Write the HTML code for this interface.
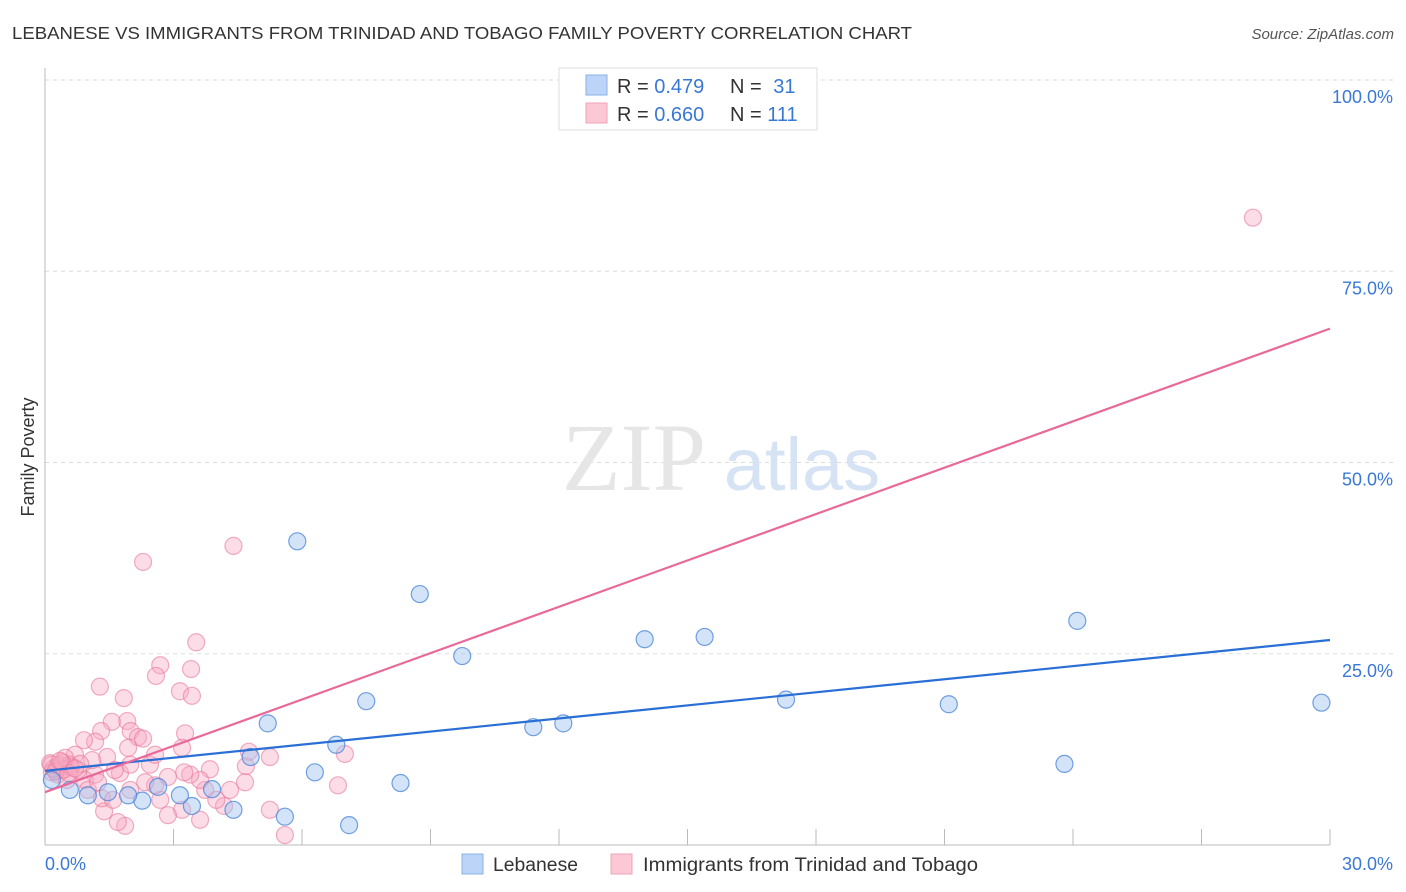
<!DOCTYPE html>
<html><head><meta charset="utf-8"><style>
body{margin:0;background:#fff;font-family:"Liberation Sans",sans-serif;}
svg{display:block}
</style></head><body>
<svg id="chart" width="1406" height="892" xmlns="http://www.w3.org/2000/svg">
<text x="12" y="39" font-size="17.5" fill="#333" textLength="900" lengthAdjust="spacingAndGlyphs">LEBANESE VS IMMIGRANTS FROM TRINIDAD AND TOBAGO FAMILY POVERTY CORRELATION CHART</text>
<text x="1394" y="39" font-size="15" fill="#555" font-style="italic" text-anchor="end">Source: ZipAtlas.com</text>
<g id="grid"></g>
<g>
<text x="634" y="490" font-size="96" font-family="Liberation Serif" fill="#e6e6e6" text-anchor="middle">ZIP</text>
<text x="802" y="490" font-size="74" fill="#d6e3f5" text-anchor="middle">atlas</text>
</g>
<text transform="translate(34,457) rotate(-90)" font-size="18" fill="#333" text-anchor="middle">Family Poverty</text>
<g id="pts"></g>
<g id="lines"></g>
<g>
<rect x="559" y="68" width="258" height="62" fill="#fff" stroke="#ddd"/>
<rect x="586" y="75" width="21" height="20" fill="#bcd4f7" stroke="#8ab0e6"/>
<rect x="586" y="103" width="21" height="20" fill="#fcc8d6" stroke="#eea4b8"/>
<text x="617" y="93" font-size="20" fill="#333">R = <tspan fill="#3a78d6">0.479</tspan></text>
<text x="730" y="93" font-size="20" fill="#333">N = <tspan fill="#3a78d6" dx="6">31</tspan></text>
<text x="617" y="121" font-size="20" fill="#333">R = <tspan fill="#3a78d6">0.660</tspan></text>
<text x="730" y="121" font-size="20" fill="#333">N = <tspan fill="#3a78d6">111</tspan></text>
</g>
<g>
<rect x="462" y="854" width="21" height="20" fill="#bcd4f7" stroke="#8ab0e6"/>
<text x="493" y="871" font-size="19" fill="#333" textLength="85" lengthAdjust="spacingAndGlyphs">Lebanese</text>
<rect x="611" y="854" width="21" height="20" fill="#fcc8d6" stroke="#eea4b8"/>
<text x="643" y="871" font-size="19" fill="#333" textLength="335" lengthAdjust="spacingAndGlyphs">Immigrants from Trinidad and Tobago</text>
</g>
</svg>
<script>
const xTickLabels=["0.0%","30.0%"];
const yTicks=[25,50,75,100];
const yTickLabels=["25.0%","50.0%","75.0%","100.0%"];
const blueX=[5.89,8.75,9.74,14.0,15.4,24.1,29.8,21.1,17.3,23.8,12.1,11.4,7.5,5.2,6.8,4.8,6.3,8.3,7.1,5.6,4.4,3.9,3.43,3.15,2.64,2.27,1.94,1.47,1.0,0.58,0.16];
const blueY=[39.7,32.8,24.7,26.9,27.2,29.3,18.6,18.4,19.0,10.6,15.9,15.4,18.8,15.9,13.1,11.5,9.5,8.1,2.6,3.7,4.6,7.3,5.1,6.5,7.6,5.8,6.5,6.9,6.5,7.2,8.5];
const pinkX=[28.2,4.4,2.29,3.53,2.69,3.41,2.59,3.15,3.43,1.28,1.84,1.92,1.56,3.27,1.31,2.0,2.17,2.29,3.2,1.94,1.17,0.91,1.45,4.69,5.25,4.76,7.0,6.84,5.25,5.6,4.67,4.32,4.18,3.85,3.74,3.62,3.39,3.25,2.87,2.69,2.57,2.34,1.99,1.87,1.7,1.38,1.33,1.59,1.75,1.63,1.17,0.93,0.77,1.1,0.7,0.47,0.35,0.23,0.12,0.16,0.3,0.51,0.58,0.42,0.82,1.0,1.24,2.45,2.57,1.99,3.62,3.2,2.87,4.0,0.2,0.3,0.45,0.6,0.15,0.25,0.4,0.55,0.7,0.35];
const pinkY=[82.0,39.1,37.0,26.5,23.5,23.0,22.1,20.1,19.5,20.7,19.2,16.2,16.1,14.6,14.9,14.9,14.1,13.9,12.7,12.7,13.5,13.7,11.5,10.3,11.5,12.2,11.9,7.8,4.6,1.3,8.2,7.2,5.1,9.9,7.2,8.5,9.2,9.5,8.9,5.9,7.8,8.2,7.2,2.5,3.0,4.4,6.1,5.9,9.4,9.8,9.2,8.5,9.8,11.1,11.8,11.4,10.5,9.8,10.7,9.5,9.2,8.5,10.5,9.8,10.6,7.2,8.2,10.5,11.8,10.5,3.3,4.6,3.9,5.9,10.0,10.3,9.9,10.2,10.5,9.6,10.8,9.4,10.0,11.0];
const blueTrend=[9.7,26.8];
const pinkTrend=[6.9,67.5];
const NS="http://www.w3.org/2000/svg";
const X0=45,X1=1330,Y0=845,PPY=7.65;
const sx=v=>X0+(X1-X0)*v/30, sy=v=>Y0-v*PPY;
function mk(tag,attrs,parent){const e=document.createElementNS(NS,tag);for(const k in attrs)e.setAttribute(k,attrs[k]);parent.appendChild(e);return e;}
const grid=document.getElementById('grid');
yTicks.forEach((t,i)=>{
 const l=mk('line',{x1:X0,x2:1393,y1:sy(t),y2:sy(t),stroke:'#ddd','stroke-dasharray':'4,4'},grid);
 
 
 const tx=mk('text',{x:1393,y:sy(t)+23,'font-size':18,fill:'#3a78d6','text-anchor':'end'},grid);
 tx.textContent=yTickLabels[i];
 
 
});
mk('line',{x1:X0,x2:X0,y1:68,y2:Y0,stroke:'#bbb'},grid);
mk('line',{x1:X0,x2:X1,y1:Y0,y2:Y0,stroke:'#bbb'},grid);
for(let k=1;k<=10;k++){const t=mk('line',{x1:sx(k*3),x2:sx(k*3),y1:Y0-16,y2:Y0,stroke:'#bbb'},grid);}
const xl0=mk('text',{x:X0,y:870,'font-size':18,fill:'#3a78d6'},grid);xl0.textContent=xTickLabels[0];


const xl1=mk('text',{x:1393,y:870,'font-size':18,fill:'#3a78d6','text-anchor':'end'},grid);xl1.textContent=xTickLabels[1];


const pts=document.getElementById('pts');
pinkX.forEach((x,i)=>{const c=mk('circle',{cx:sx(x),cy:sy(pinkY[i]),r:8.5,fill:'rgba(248,170,195,0.4)',stroke:'rgba(232,120,155,0.6)','stroke-width':1.2},pts);
 
 });
blueX.forEach((x,i)=>{const c=mk('circle',{cx:sx(x),cy:sy(blueY[i]),r:8.5,fill:'rgba(160,195,240,0.45)',stroke:'rgba(70,130,215,0.75)','stroke-width':1.2},pts);
 
 });
const lines=document.getElementById('lines');
const bl=mk('line',{x1:sx(0),y1:sy(blueTrend[0]),x2:sx(30),y2:sy(blueTrend[1]),stroke:'#2a6fd6','stroke-width':2.2},lines);


const pl=mk('line',{x1:sx(0),y1:sy(pinkTrend[0]),x2:sx(30),y2:sy(pinkTrend[1]),stroke:'#e8699a','stroke-width':2.2},lines);


</script>
</body></html>
